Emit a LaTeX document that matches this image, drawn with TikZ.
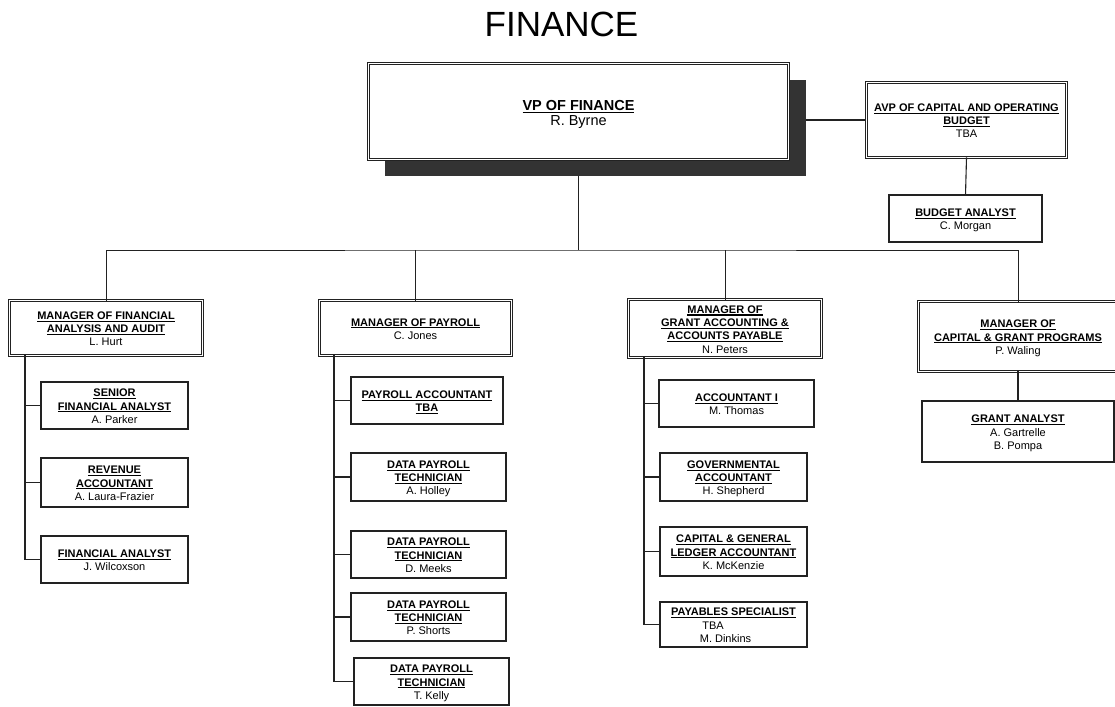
\documentclass[tikz,border=0pt]{standalone}
\usepackage{fontspec}
\setmainfont{Liberation Sans}
\usetikzlibrary{backgrounds}
\definecolor{lc}{HTML}{222222}
\definecolor{shadowc}{HTML}{333333}
\newcommand\ulx[1]{\setbox0\hbox{#1}\rlap{\rule[-2.3pt]{\wd0}{1.1pt}}\box0}
\newcommand\bx[2][-2pt]{\raisebox{#1}[\height][\depth]{\begin{tabular}{@{}c@{}}#2\end{tabular}}}
\newcommand\orgbox[7]{%
  \pgfmathsetmacro\cx{(#3+#5)/2}\pgfmathsetmacro\cy{(#4+#6)/2}%
  \pgfmathsetmacro\ww{#5-#3}\pgfmathsetmacro\hh{#6-#4}%
  \node[#1, minimum width=\ww pt, minimum height=\hh pt] (#2) at (\cx,\cy) {#7};}
\tikzset{
  box/.style={draw=lc, fill=white, line width=1.2pt, inner sep=0pt, outer sep=0pt,
    anchor=center, font=\fontsize{11}{13.3}\selectfont},
  dbox/.style={box, double=white, double distance=1.7pt, line width=0.75pt},
  conn/.style={draw=lc, line width=1.1pt},
}
\begin{document}
\begin{tikzpicture}[x=1pt,y=-1pt]
\clip (0,0) rectangle (1115,706);

\node[inner sep=0pt, font=\fontsize{35}{40}\selectfont] (title) at (561.5,24.5) {FINANCE};

% top level
\orgbox{dbox, font=\fontsize{14.5}{15}\selectfont}{vp}{368.6}{63.6}{788.4}{159.4}
  {\bx[-3.5pt]{\textbf{\ulx{VP OF FINANCE}}\\R. Byrne}}
\orgbox{dbox}{avp}{866.6}{82.6}{1066.4}{157.4}
  {\bx{\textbf{\ulx{AVP OF CAPITAL AND OPERATING}}\\\textbf{\ulx{BUDGET}}\\TBA}}
\orgbox{box}{bud}{889}{195}{1042}{242}
  {\bx{\textbf{\ulx{BUDGET ANALYST}}\\C. Morgan}}

% managers
\orgbox{dbox}{m1}{9.6}{300.6}{202.4}{355.4}
  {\bx{\textbf{\ulx{MANAGER OF FINANCIAL}}\\\textbf{\ulx{ANALYSIS AND AUDIT}}\\L. Hurt}}
\orgbox{dbox}{m2}{319.6}{300.6}{511.4}{355.4}
  {\bx{\textbf{\ulx{MANAGER OF PAYROLL}}\\C. Jones}}
\orgbox{dbox}{m3}{628.6}{299.6}{821.4}{357.4}
  {\bx{\textbf{\ulx{MANAGER OF}}\\\textbf{\ulx{GRANT ACCOUNTING \&}}\\\textbf{\ulx{ACCOUNTS PAYABLE}}\\N. Peters}}
\orgbox{dbox}{m4}{918.6}{301.6}{1117.4}{371.4}
  {\bx{\textbf{\ulx{MANAGER OF}}\\\textbf{\ulx{CAPITAL \& GRANT PROGRAMS}}\\P. Waling}}

% column 1
\orgbox{box}{s1}{41}{382}{188}{429}
  {\bx{\textbf{\ulx{SENIOR}}\\\textbf{\ulx{FINANCIAL ANALYST}}\\A. Parker}}
\orgbox{box}{s2}{41}{458}{188}{507}
  {\bx{\textbf{\ulx{REVENUE}}\\\textbf{\ulx{ACCOUNTANT}}\\A. Laura-Frazier}}
\orgbox{box}{s3}{41}{536}{188}{583}
  {\bx{\textbf{\ulx{FINANCIAL ANALYST}}\\J. Wilcoxson}}

% column 2
\orgbox{box}{p1}{351}{377}{503}{424}
  {\bx{\textbf{\ulx{PAYROLL ACCOUNTANT}}\\\textbf{\ulx{TBA}}}}
\orgbox{box}{p2}{351}{453}{506}{501}
  {\bx{\textbf{\ulx{DATA PAYROLL}}\\\textbf{\ulx{TECHNICIAN}}\\A. Holley}}
\orgbox{box}{p3}{351}{531}{506}{578}
  {\bx{\textbf{\ulx{DATA PAYROLL}}\\\textbf{\ulx{TECHNICIAN}}\\D. Meeks}}
\orgbox{box}{p4}{351}{593}{506}{641}
  {\bx{\textbf{\ulx{DATA PAYROLL}}\\\textbf{\ulx{TECHNICIAN}}\\P. Shorts}}
\orgbox{box}{p5}{354}{658}{509}{705}
  {\bx{\textbf{\ulx{DATA PAYROLL}}\\\textbf{\ulx{TECHNICIAN}}\\T. Kelly}}

% column 3
\orgbox{box}{g1}{659}{380}{814}{427}
  {\bx{\textbf{\ulx{ACCOUNTANT I}}\\M. Thomas}}
\orgbox{box}{g2}{660}{453}{807}{501}
  {\bx{\textbf{\ulx{GOVERNMENTAL}}\\\textbf{\ulx{ACCOUNTANT}}\\H. Shepherd}}
\orgbox{box}{g3}{660}{527}{807}{576}
  {\bx{\textbf{\ulx{CAPITAL \& GENERAL}}\\\textbf{\ulx{LEDGER ACCOUNTANT}}\\K. McKenzie}}
\orgbox{box}{g4}{660}{602}{807}{647}
  {\bx{\textbf{\ulx{PAYABLES SPECIALIST}}\\\hspace*{-41pt}TBA\\\hspace*{-16pt}M. Dinkins}}

% column 4
\orgbox{box}{c1}{922}{401}{1114}{462}
  {\bx{\textbf{\ulx{GRANT ANALYST}}\\A. Gartrelle\\B. Pompa}}

% connectors
\coordinate (bus) at (vp.south |- 0,250);
\begin{scope}[on background layer]
  \fill[white] (0,0) rectangle (1115,706);
  \draw[conn] (avp.west) -- (avp.west -| vp.east);
  \draw[conn] (vp.south) -- (bus);
  \fill[shadowc] ([xshift=16pt,yshift=-16.5pt]vp.south west) rectangle ([xshift=17.5pt,yshift=-16.5pt]vp.north east);
\end{scope}
\draw[conn] ([yshift=-17pt]vp.south) -- (bus);
\draw[conn, line width=1pt] (m1.north) |- (bus) -| (m4.north);
\draw[conn, line width=1pt] (m2.north) -- (m2.north |- bus);
\draw[conn, line width=1pt] (m3.north) -- (m3.north |- bus);
\draw[conn] (avp.south) -- (bud.north);
\draw[conn] (m4.south) -- (c1.north);

\coordinate (t1) at ([xshift=15.4pt]m1.south west);
\draw[conn] (t1) |- (s3.west);
\draw[conn] (s1.west) -- (s1.west -| t1);
\draw[conn] (s2.west) -- (s2.west -| t1);

\coordinate (t2) at ([xshift=14.4pt]m2.south west);
\draw[conn] (t2) |- (p5.west);
\draw[conn] (p1.west) -- (p1.west -| t2);
\draw[conn] (p2.west) -- (p2.west -| t2);
\draw[conn] (p3.west) -- (p3.west -| t2);
\draw[conn] (p4.west) -- (p4.west -| t2);

\coordinate (t3) at ([xshift=15.4pt]m3.south west);
\draw[conn] (t3) |- (g4.west);
\draw[conn] (g1.west) -- (g1.west -| t3);
\draw[conn] (g2.west) -- (g2.west -| t3);
\draw[conn] (g3.west) -- (g3.west -| t3);
\end{tikzpicture}
\end{document}
